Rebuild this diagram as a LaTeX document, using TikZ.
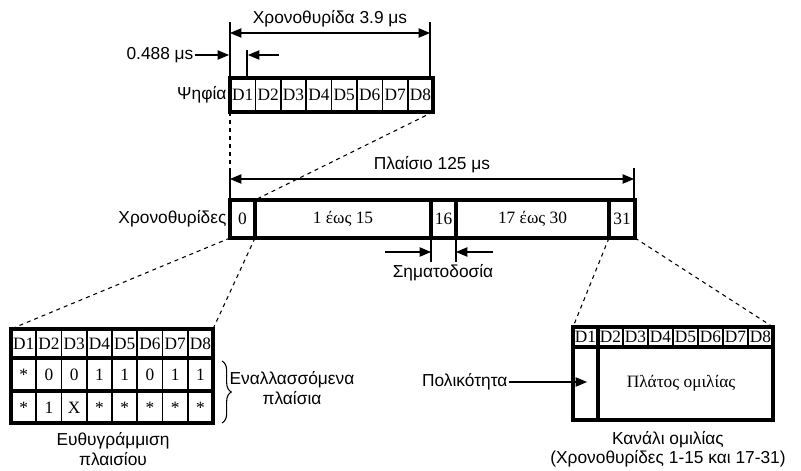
\documentclass[tikz,border=0pt]{standalone}
\usepackage{fontspec}
\setmainfont{Liberation Sans}
\newfontfamily\tnr{Liberation Serif}
\usetikzlibrary{arrows.meta,decorations.pathreplacing}
\tikzset{
  heavy/.style={line width=3pt},
  thinsep/.style={line width=1.3pt},
  dimline/.style={line width=0.8pt},
  dimarrow/.style={line width=0.8pt,-{Triangle[length=8.5pt,width=7pt]}},
  twoarrow/.style={line width=0.8pt,{Triangle[length=8.5pt,width=7pt]}-{Triangle[length=8.5pt,width=7pt]}},
  zoomline/.style={dashed,line width=0.8pt},
  cell/.style={font=\tnr\fontsize{13}{15}\selectfont,inner sep=0pt},
  lbl/.style={font=\fontsize{13}{14.5}\selectfont,inner sep=1pt}
}
\begin{document}
\begin{tikzpicture}[x=0.75pt,y=-0.75pt]
  \useasboundingbox (0,0) rectangle (801,471);
  % one time slot: eight digits
  \coordinate (bitnw) at (230,78);
  \coordinate (bitse) at (433,112);
  \coordinate (bitsw) at (230,112);
  \foreach \i in {1,...,7} \draw[thinsep] ({230+25.4*\i},78) -- ({230+25.4*\i},112);
  \draw[heavy] (bitnw) rectangle (bitse);
  \foreach \i in {1,...,8} \node[cell] (d\i) at ({230+25.4*\i-12.7},95) {D\i};
  \node[lbl,left] (digits) at (228,95) {Ψηφία};
  % slot length
  \coordinate (sa) at (230,22);
  \coordinate (sb) at (430,22);
  \coordinate (sa2) at (230,78);
  \coordinate (sb2) at (430,78);
  \coordinate (sl) at (230,33);
  \coordinate (sr) at (430,33);
  \draw[dimline] (sa) -- (sa2);
  \draw[dimline] (sb) -- (sb2);
  \draw[twoarrow] (sl) -- (sr);
  \node[lbl] (slotlen) at (330,19) {Χρονοθυρίδα 3.9 μs};
  % bit length
  \coordinate (ba) at (247,50);
  \coordinate (ba2) at (247,78);
  \coordinate (bl) at (229,55);
  \coordinate (br) at (248,55);
  \coordinate (brt) at (279,55);
  \draw[dimline] (ba) -- (ba2);
  \node[lbl,left] (bitlen) at (195,55) {0.488 μs};
  \draw[dimarrow] (bitlen.east) -- (bl);
  \draw[dimarrow] (brt) -- (br);
  % frame of 32 time slots
  \coordinate (frnw) at (230,200);
  \coordinate (frse) at (635,238);
  \foreach \x in {255,431,456,609} \draw[heavy] (\x,200) -- (\x,238);
  \draw[heavy] (frnw) rectangle (frse);
  \node[cell] (ts0) at (242.5,219) {0};
  \node[cell] (ts1) at (343,219) {1 έως 15};
  \node[cell] (ts16) at (443.5,219) {16};
  \node[cell] (ts17) at (532.5,219) {17 έως 30};
  \node[cell] (ts31) at (622,219) {31};
  \node[lbl,left] (slots) at (228,219) {Χρονοθυρίδες};
  % frame length
  \coordinate (fa) at (230,168);
  \coordinate (fb) at (634,168);
  \coordinate (fl) at (230,179);
  \coordinate (fr) at (634,179);
  \draw[dimline] (fa) -- (frnw);
  \draw[dimline] (fb) -- (634,200);
  \draw[twoarrow] (fl) -- (fr);
  \node[lbl] (framelen) at (432,165) {Πλαίσιο 125 μs};
  % zoom from frame to slot
  \coordinate (z0) at (255,200);
  \draw[zoomline] (bitsw) -- (frnw);
  \draw[zoomline] (bitse) -- (z0);
  % signalling slot
  \coordinate (ga) at (431,238);
  \coordinate (ga2) at (431,262);
  \coordinate (gb) at (456,238);
  \coordinate (gb2) at (456,262);
  \draw[dimline] (ga) -- (ga2);
  \draw[dimline] (gb) -- (gb2);
  \coordinate (gl) at (385,252);
  \coordinate (gr) at (493,252);
  \draw[dimarrow] (gl) -- (431,252);
  \draw[dimarrow] (gr) -- (456,252);
  \node[lbl] (signal) at (443,273) {Σηματοδοσία};
  % frame alignment slot
  \coordinate (alnw) at (11,329);
  \coordinate (alse) at (213,423);
  \coordinate (alne) at (213,329);
  \foreach \i in {1,...,7} \draw[thinsep] ({11+25.25*\i},329) -- ({11+25.25*\i},423);
  \draw[heavy] (11,358) -- (213,358);
  \draw[heavy] (11,391) -- (213,391);
  \draw[heavy] (alnw) rectangle (alse);
  \foreach \i in {1,...,8} \node[cell] (a\i) at ({11+25.25*\i-12.6},344) {D\i};
  \foreach \v [count=\i] in {*,0,0,1,1,0,1,1} \node[cell] (b\i) at ({11+25.25*\i-12.6},375) {\v};
  \foreach \v [count=\i] in {*,1,X,*,*,*,*,*} \node[cell] (c\i) at ({11+25.25*\i-12.6},408) {\v};
  \coordinate (frsw) at (230,238);
  \coordinate (z1) at (255,238);
  \draw[zoomline] (frsw) -- (alnw);
  \draw[zoomline] (z1) -- (alne);
  \coordinate (brt1) at (222,361);
  \coordinate (brt2) at (222,423);
  \draw[dimline,decorate,decoration={brace,amplitude=7pt}] (brt1) -- (brt2);
  \node[lbl,align=center] (alt) at (292,388) {Εναλλασσόμενα\\πλαίσια};
  \node[lbl,align=center] (align) at (113,449) {Ευθυγράμμιση\\πλαισίου};
  % speech channel slot
  \coordinate (spnw) at (573,327);
  \coordinate (spse) at (773,420);
  \coordinate (spne) at (773,327);
  \foreach \i in {2,...,7} \draw[thinsep] ({573+25*\i},327) -- ({573+25*\i},347);
  \draw[heavy] (598,327) -- (598,420);
  \draw[heavy] (573,347) -- (773,347);
  \draw[heavy] (spnw) rectangle (spse);
  \foreach \i in {1,...,8} \node[cell] (e\i) at ({573+25*\i-12.5},337) {D\i};
  \node[cell] (amp) at (681,383) {Πλάτος ομιλίας};
  \coordinate (z30) at (609,238);
  \draw[zoomline] (z30) -- (spnw);
  \draw[zoomline] (frse) -- (spne);
  \coordinate (poltip) at (587,382);
  \node[lbl,left] (pol) at (509,382) {Πολικότητα};
  \draw[dimarrow] (pol.east) -- (poltip);
  \node[lbl,align=center] (speech) at (668,449) {Κανάλι ομιλίας\\(Χρονοθυρίδες 1-15 και 17-31)};
\end{tikzpicture}
\end{document}
